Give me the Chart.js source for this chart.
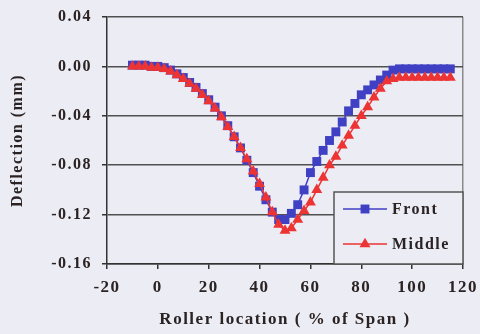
<!DOCTYPE html>
<html>
<head>
<meta charset="utf-8">
<script src="https://cdn.jsdelivr.net/npm/chart.js@4.4.0/dist/chart.umd.min.js"></script>
<style>
  html, body { margin: 0; padding: 0; background: #ececf4; }
  #wrap { width: 480px; height: 334px; }
</style>
</head>
<body>
<div id="wrap"><canvas id="chart" width="480" height="334"></canvas></div>
<script>
// roller location, % of span
const location_pct = [-10, -7.5, -5, -2.5, 0, 2.5, 5, 7.5, 10, 12.5, 15, 17.5, 20, 22.5, 25, 27.5,
  30, 32.5, 35, 37.5, 40, 42.5, 45, 47.5, 50, 52.5, 55, 57.5, 60, 62.5, 65, 67.5, 70, 72.5,
  75, 77.5, 80, 82.5, 85, 87.5, 90, 92.5, 95, 97.5, 100, 102.5, 105, 107.5, 110, 112.5, 115];

// deflection (mm)
const front = [0.001, 0.001, 0.001, 0.000, 0.000, -0.001, -0.003, -0.006, -0.009, -0.013, -0.017,
  -0.022, -0.027, -0.033, -0.040, -0.048, -0.057, -0.066, -0.076, -0.086, -0.097, -0.108, -0.118,
  -0.124, -0.124, -0.119, -0.112, -0.100, -0.086, -0.077, -0.068, -0.060, -0.053, -0.045, -0.036,
  -0.030, -0.023, -0.019, -0.015, -0.011, -0.007, -0.003, -0.002, -0.002, -0.002, -0.002, -0.002,
  -0.002, -0.002, -0.002, -0.002];
const middle = [0.000, 0.000, 0.000, -0.001, -0.001, -0.002, -0.004, -0.007, -0.010, -0.014, -0.018,
  -0.023, -0.028, -0.034, -0.041, -0.049, -0.057, -0.066, -0.075, -0.085, -0.095, -0.106, -0.118,
  -0.128, -0.133, -0.131, -0.124, -0.117, -0.110, -0.100, -0.090, -0.080, -0.073, -0.064, -0.056,
  -0.048, -0.040, -0.033, -0.025, -0.018, -0.012, -0.010, -0.009, -0.009, -0.009, -0.009, -0.009,
  -0.009, -0.009, -0.009, -0.009];

const xTicks = [-20, 0, 20, 40, 60, 80, 100, 120];
const yTicks = [0.04, 0.00, -0.04, -0.08, -0.12, -0.16];

const serif = '"Liberation Serif", "Times New Roman", serif';
const textColor = '#2b2323';

const toXY = (xs, ys) => xs.map((x, i) => ({ x: x, y: ys[i] }));

// legend box in the lower right corner of the plot
const boxLegend = {
  id: 'boxLegend',
  afterDatasetsDraw(chart) {
    const ctx = chart.ctx;
    const area = chart.chartArea;
    const w = 129, h = 72;
    const x0 = area.right - w, y0 = area.bottom - h;
    ctx.save();
    ctx.fillStyle = '#ececf4';
    ctx.fillRect(x0, y0, w, h);
    ctx.strokeStyle = '#555';
    ctx.lineWidth = 1.5;
    ctx.strokeRect(x0, y0, w, h);
    ctx.font = 'bold 16px ' + serif;
    ctx.textBaseline = 'middle';
    ctx.fillStyle = textColor;
    chart.data.datasets.forEach((ds, i) => {
      const y = y0 + 17 + i * 35;
      ctx.strokeStyle = ds.borderColor;
      ctx.lineWidth = 1.5;
      ctx.beginPath();
      ctx.moveTo(x0 + 9, y);
      ctx.lineTo(x0 + 53, y);
      ctx.stroke();
      ctx.fillStyle = ds.pointBackgroundColor;
      Chart.helpers.drawPoint(ctx, { pointStyle: ds.pointStyle, radius: ds.pointRadius, borderWidth: 0 }, x0 + 31, y);
      ctx.fillStyle = textColor;
      ctx.fillText(ds.label, x0 + 58, y + 1);
    });
    ctx.restore();
  }
};

const spacing = {
  id: 'spacing',
  beforeDraw(chart) { chart.ctx.letterSpacing = '1.5px'; }
};

new Chart(document.getElementById('chart').getContext('2d'), {
  type: 'line',
  data: {
    datasets: [
      { label: 'Front', data: toXY(location_pct, front), borderColor: '#4040c4', backgroundColor: '#4040c4',
        pointBackgroundColor: '#4040c4', pointBorderWidth: 0, pointStyle: 'rect', pointRadius: 6.3,
        borderWidth: 1.5, order: 2, fill: false },
      { label: 'Middle', data: toXY(location_pct, middle), borderColor: '#ec3434', backgroundColor: '#ec3434',
        pointBackgroundColor: '#ec3434', pointBorderWidth: 0, pointStyle: 'triangle', pointRadius: 6.3,
        borderWidth: 1.5, order: 1, fill: false }
    ]
  },
  options: {
    responsive: false,
    animation: false,
    events: [],
    layout: { padding: { top: 17, right: 17, left: 0, bottom: 0 } },
    plugins: { legend: { display: false }, tooltip: { enabled: false } },
    scales: {
      x: {
        type: 'linear',
        min: -20, max: 120,
        afterFit: s => { s.height = 70; s.paddingLeft = 0; s.paddingRight = 0; },
        afterBuildTicks: s => { s.ticks = xTicks.map(v => ({ value: v })); },
        ticks: { color: textColor, font: { family: serif, size: 17, weight: 'bold' }, padding: 8, maxRotation: 0 },
        grid: {
          color: c => (c.tick && c.tick.value === 120 ? '#8a8a8a' : 'rgba(0,0,0,0)'),
          tickColor: '#333', tickLength: 5, lineWidth: 1.5
        },
        border: { color: '#333', width: 1.5 },
        title: { display: true, text: 'Roller location ( % of Span )', color: textColor,
          font: { family: serif, size: 17, weight: 'bold' }, padding: { top: 4, bottom: 4 } }
      },
      y: {
        min: -0.16, max: 0.04,
        afterFit: s => { s.width = 107; s.paddingTop = 0; s.paddingBottom = 0; },
        afterBuildTicks: s => { s.ticks = yTicks.map(v => ({ value: v })); },
        ticks: { color: textColor, font: { family: serif, size: 16, weight: 'bold' }, padding: 10,
          callback: v => v.toFixed(2) },
        grid: { color: '#505050', tickColor: '#333', tickLength: 5, lineWidth: 1.5 },
        border: { color: '#333', width: 1.5 },
        title: { display: true, text: 'Deflection (mm)', color: textColor,
          font: { family: serif, size: 16, weight: 'bold' }, padding: { top: 8, bottom: 0 } }
      }
    }
  },
  plugins: [spacing, boxLegend]
});
</script>
</body>
</html>
